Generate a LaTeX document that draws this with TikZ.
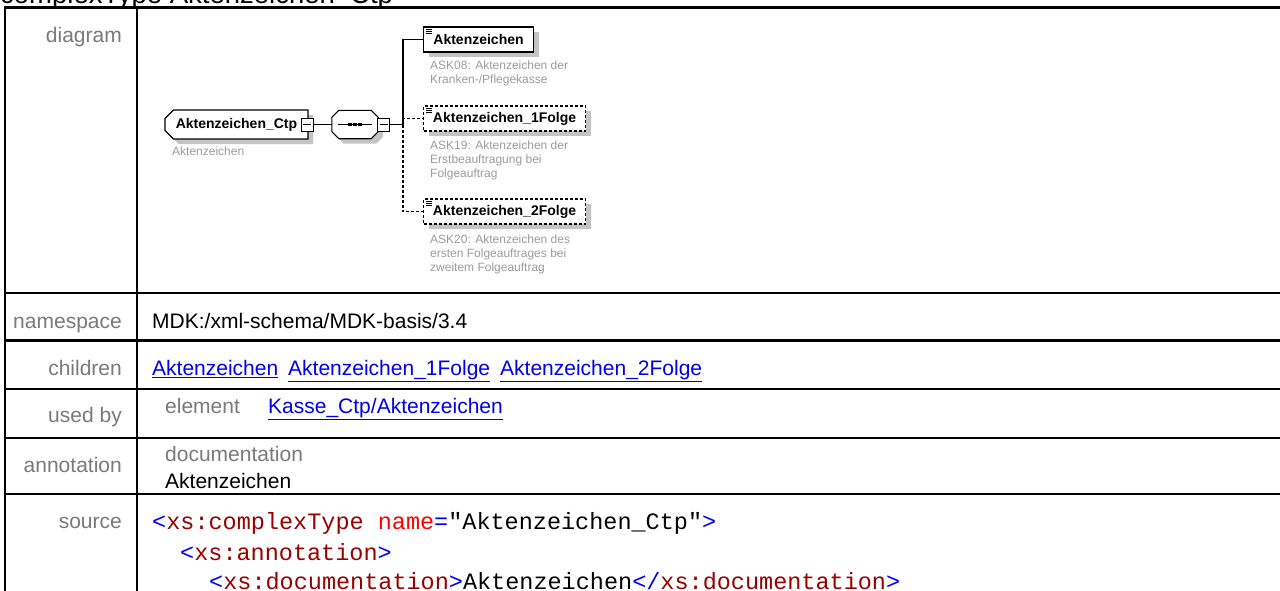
\documentclass[tikz,border=0pt]{standalone}
\usepackage{fontspec}
\setmainfont{Liberation Sans}
\setmonofont{Liberation Mono}
\usetikzlibrary{shapes.misc,shadows}
\definecolor{lblgray}{HTML}{7A7A7A}
\definecolor{descgray}{HTML}{9C9C9C}
\definecolor{shade}{HTML}{C4C4C4}
\definecolor{linkblue}{HTML}{0000EE}
\definecolor{tagblue}{HTML}{0000FF}
\definecolor{elemred}{HTML}{990000}
\definecolor{attrred}{HTML}{FF0000}

\tikzset{
  rule/.style={line width=2.2pt},
  lbl/.style={anchor=base east, inner sep=0pt, font=\fontsize{21}{25}\selectfont, text=lblgray},
  val/.style={anchor=base west, inner sep=0pt, font=\fontsize{21}{25}\selectfont},
  sub/.style={val, text=lblgray},
  lnk/.style={val, text=linkblue},
  code/.style={anchor=base west, inner sep=0pt, font=\ttfamily\fontsize{23.5}{28}\selectfont},
  desc/.style={anchor=north west, inner sep=0pt, align=left, text=descgray,
    font=\fontsize{12}{14}\selectfont},
  boxshadow/.style={general shadow={fill=shade, shadow xshift=5pt, shadow yshift=-5pt}},
  ctype/.style={draw, line width=1.1pt, fill=white, boxshadow, chamfered rectangle,
    chamfered rectangle corners={north west,south west}, chamfered rectangle xsep=5pt,
    minimum width=143pt, minimum height=29pt, inner sep=0pt,
    font=\bfseries\fontsize{14}{16}\selectfont},
  seqbox/.style={minimum width=46pt, minimum height=28pt, inner sep=0pt},
  seqline/.style={draw, line width=1.1pt, fill=white, boxshadow},
  elbox/.style={draw, line width=1.1pt, fill=white, boxshadow, minimum height=25pt,
    inner sep=0pt, font=\bfseries\fontsize{14}{16}\selectfont},
  optbox/.style={elbox, dash pattern=on 3pt off 2pt},
  minus/.style={draw, line width=0.9pt, fill=white, minimum width=12pt, minimum height=13pt,
    inner sep=0pt, path picture={\draw ([xshift=2pt]path picture bounding box.west)
      -- ([xshift=-2pt]path picture bounding box.east);}},
  wire/.style={line width=1.1pt},
  optwire/.style={wire, dash pattern=on 3pt off 2pt}
}

\begin{document}
\begin{tikzpicture}[x=1pt, y=-1pt]
  \useasboundingbox (0,0) rectangle (1280,590);
  \clip (0,0) rectangle (1280,590);
  \fill[white] (0,0) rectangle (1280,590);

  % title, cut off at the top
  \node[anchor=base west, inner sep=0pt, font=\fontsize{27.5}{30}\selectfont] (title) at (0,3) {complexType Aktenzeichen\_Ctp};

  % table frame
  \draw[rule] (5,7.5) -- (1290,7.5);
  \draw[rule] (5,6.4) -- (5,600);
  \draw[rule] (137,7.5) -- (137,600);
  \foreach \y in {293,340.5,389,438,494}
    \draw[rule] (5,\y) -- (1290,\y);

  % row labels
  \node[lbl] (ldiagram) at (122,42.5) {diagram};
  \node[lbl] (lnamespace) at (122,328) {namespace};
  \node[lbl] (lchildren) at (122,375.5) {children};
  \node[lbl] (lusedby) at (122,422.5) {used by};
  \node[lbl] (lannotation) at (122,472.5) {annotation};
  \node[lbl] (lsource) at (122,528.5) {source};

  % diagram
  \node[ctype] (ctp) at (236.5,124.5) {Aktenzeichen\_Ctp\hspace{10pt}};
  \node[minus] (ctpminus) at (307,124.5) {};
  \node[desc] (ctpdesc) at (172,147) {Aktenzeichen};

  \node[seqbox] (seq) at (355,124.5) {};
  \path[seqline] ([xshift=7pt]seq.north west) -- ([xshift=-7pt]seq.north east)
    -- ([yshift=-7pt]seq.north east) -- ([yshift=7pt]seq.south east)
    -- ([xshift=-7pt]seq.south east) -- ([xshift=7pt]seq.south west)
    -- ([yshift=7pt]seq.south west) -- ([yshift=-7pt]seq.north west) -- cycle;
  \draw[wire] ([xshift=-17pt]seq.center) -- ([xshift=17pt]seq.center);
  \foreach \dx in {-5,0,5}
    \fill ([xshift=\dx pt]seq.center) +(-1.8,-1.8) rectangle +(1.8,1.8);
  \node[minus] (seqminus) at (383.5,124.5) {};
  \coordinate (bus) at (403,124.5);

  \node[elbox, minimum width=110pt, anchor=west] (el1) at (423,39.5) {Aktenzeichen};
  \node[optbox, minimum width=162pt, anchor=west] (el2) at (423,118.5) {Aktenzeichen\_1Folge};
  \node[optbox, minimum width=162pt, anchor=west] (el3) at (423,211.5) {Aktenzeichen\_2Folge};
  \foreach \el in {el1,el2,el3}
    \foreach \dy in {3,5,7}
      \draw[line width=0.7pt] ([xshift=2.5pt,yshift=-\dy pt]\el.north west) -- ++(6,0);

  \node[desc] (el1desc) at (430,61) {ASK08: Aktenzeichen der\\Kranken-/Pflegekasse};
  \node[desc] (el2desc) at (430,141) {ASK19: Aktenzeichen der\\Erstbeauftragung bei\\Folgeauftrag};
  \node[desc] (el3desc) at (430,235) {ASK20: Aktenzeichen des\\ersten Folgeauftrages bei\\zweitem Folgeauftrag};

  \draw[wire] (ctpminus.east) -- (seq.west);
  \draw[wire] (seqminus.east) -- (bus);
  \draw[wire] (bus) |- (el1.west);
  \draw[optwire] (bus) |- (el2.west);
  \draw[optwire] (bus) |- (el3.west);

  % namespace, children, used by, annotation
  \node[val] (ns) at (152,328) {MDK:/xml-schema/MDK-basis/3.4};
  \node[lnk] (ch1) at (152,375.5) {\underline{Aktenzeichen}};
  \node[lnk] (ch2) at (288,375.5) {\underline{Aktenzeichen\_1Folge}};
  \node[lnk] (ch3) at (500,375.5) {\underline{Aktenzeichen\_2Folge}};
  \node[sub] (usedkind) at (165,413.5) {element};
  \node[lnk] (usedref) at (268,413.5) {\underline{Kasse\_Ctp/Aktenzeichen}};
  \node[sub] (annkind) at (165,461.5) {documentation};
  \node[val] (anntext) at (165,488.5) {Aktenzeichen};

  % source
  \node[code] (src1) at (152,529) {\textcolor{tagblue}{<}\textcolor{elemred}{xs:complexType} \textcolor{attrred}{name}\textcolor{tagblue}{=}"Aktenzeichen\_Ctp"\textcolor{tagblue}{>}};
  \node[code] (src2) at (180,560) {\textcolor{tagblue}{<}\textcolor{elemred}{xs:annotation}\textcolor{tagblue}{>}};
  \node[code] (src3) at (209,589) {\textcolor{tagblue}{<}\textcolor{elemred}{xs:documentation}\textcolor{tagblue}{>}Aktenzeichen\textcolor{tagblue}{</}\textcolor{elemred}{xs:documentation}\textcolor{tagblue}{>}};
\end{tikzpicture}
\end{document}
